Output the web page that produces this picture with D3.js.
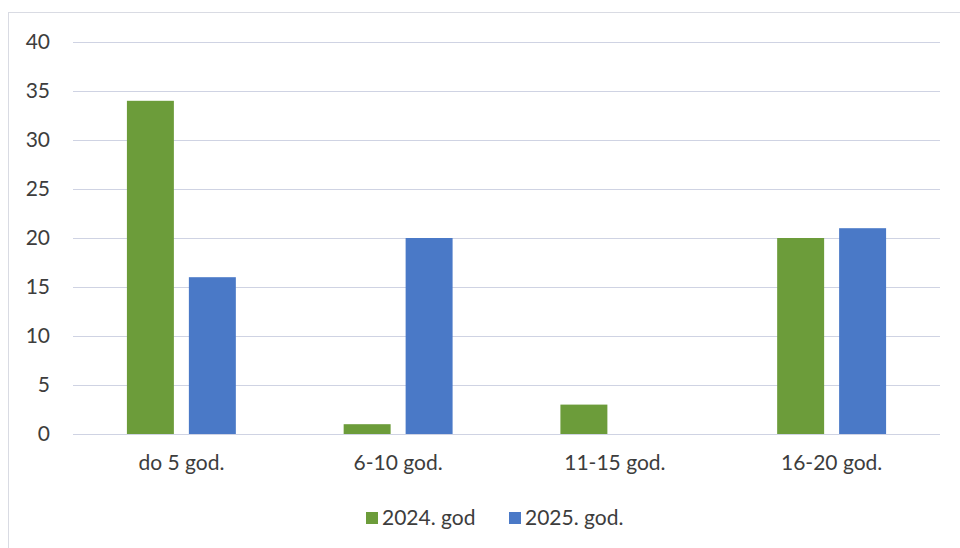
<!DOCTYPE html>
<html>
<head>
<meta charset="utf-8">
<script src="https://cdn.jsdelivr.net/npm/d3@7"></script>
<style>
  html, body { margin: 0; padding: 0; background: #ffffff; }
  svg { display: block; }
  text { font-family: Lato, "Open Sans", sans-serif; fill: #3d3d3d; }
</style>
</head>
<body>
<div id="chart"></div>
<script>
// Age groups (years) and counts per year
const categories = ["do 5 god.", "6-10 god.", "11-15 god.", "16-20 god."];
const seriesNames = ["2024. god", "2025. god."];
const values2024 = [34, 1, 3, 20];
const values2025 = [16, 20, 0, 21];
const yTicks = [0, 5, 10, 15, 20, 25, 30, 35, 40];
const colors = ["#6c9c3a", "#4a79c7"];

const W = 960, H = 548;
const margin = { left: 73, right: 20, top: 42, bottom: 114 };

const svg = d3.select("#chart").append("svg")
  .attr("width", W).attr("height", H);

// chart frame
svg.append("rect")
  .attr("x", 8.5).attr("y", 12.5)
  .attr("width", 980).attr("height", 560)
  .attr("fill", "none").attr("stroke", "#d9dbe3").attr("stroke-width", 1);

const x0 = d3.scaleBand()
  .domain(categories)
  .range([margin.left, W - margin.right])
  .paddingInner(0).paddingOuter(0);

const x1 = d3.scaleBand()
  .domain(seriesNames)
  .range([0, x0.bandwidth()])
  .paddingInner(0.242)
  .paddingOuter(0.87);

const y = d3.scaleLinear()
  .domain([0, 40])
  .range([H - margin.bottom, margin.top]);

// horizontal gridlines
svg.append("g")
  .selectAll("line")
  .data(yTicks)
  .join("line")
  .attr("x1", margin.left).attr("x2", W - margin.right)
  .attr("y1", d => Math.round(y(d)) + 0.5).attr("y2", d => Math.round(y(d)) + 0.5)
  .attr("stroke", "#cfd3e3").attr("stroke-width", 1);

// y axis labels
const yAxis = d3.axisLeft(y).tickValues(yTicks).tickSize(0).tickPadding(0);
const gy = svg.append("g")
  .attr("transform", `translate(${margin.left - 23},0)`)
  .call(yAxis);
gy.select(".domain").remove();
gy.selectAll("text")
  .style("font-size", "21px")
  .attr("text-anchor", "end")
  .attr("fill", "#3d3d3d");

// x axis labels
const xAxis = d3.axisBottom(x0).tickSize(0).tickPadding(0);
const gx = svg.append("g")
  .attr("transform", `translate(0,${y(0) + 21})`)
  .call(xAxis);
gx.select(".domain").remove();
gx.selectAll("text")
  .style("font-size", "21px")
  .attr("fill", "#3d3d3d");

// grouped bars
const rows = categories.map((c, i) => ({
  category: c,
  bars: [
    { name: seriesNames[0], value: values2024[i], color: colors[0] },
    { name: seriesNames[1], value: values2025[i], color: colors[1] }
  ]
}));

svg.append("g")
  .selectAll("g")
  .data(rows)
  .join("g")
  .attr("transform", d => `translate(${x0(d.category)},0)`)
  .selectAll("rect")
  .data(d => d.bars.filter(b => b.value > 0))
  .join("rect")
  .attr("x", d => x1(d.name))
  .attr("width", x1.bandwidth())
  .attr("y", d => y(d.value))
  .attr("height", d => y(0) - y(d.value))
  .attr("fill", d => d.color);

// legend
const legendItems = [
  { name: seriesNames[0], color: colors[0], x: 366 },
  { name: seriesNames[1], color: colors[1], x: 509 }
];
const lg = svg.append("g");
const li = lg.selectAll("g").data(legendItems).join("g")
  .attr("transform", d => `translate(${d.x},518)`);
li.append("rect")
  .attr("x", 0).attr("y", -6).attr("width", 12).attr("height", 12)
  .attr("fill", d => d.color);
li.append("text")
  .attr("x", 16).attr("y", 0).attr("dy", "0.35em")
  .style("font-size", "21px")
  .text(d => d.name);
</script>
</body>
</html>
